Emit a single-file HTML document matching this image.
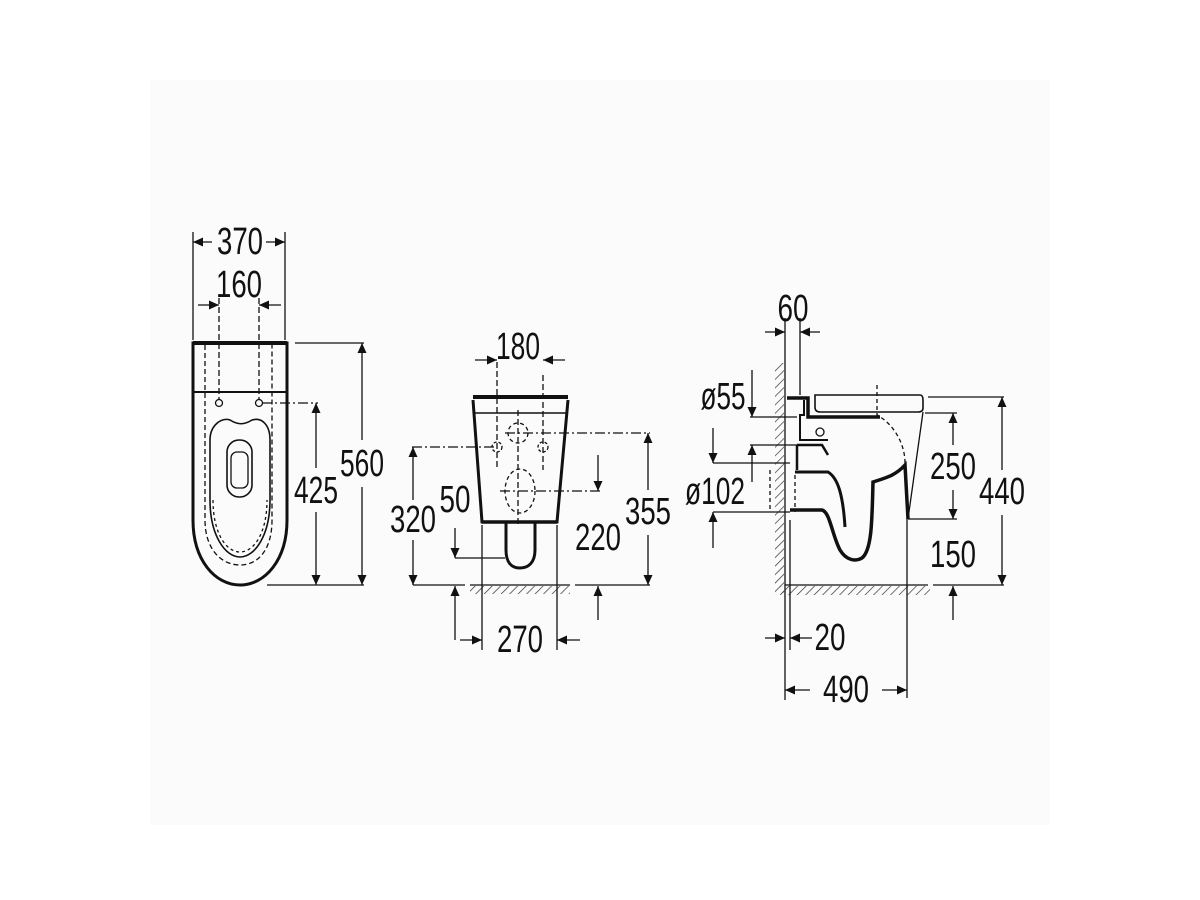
<!DOCTYPE html>
<html><head><meta charset="utf-8"><style>
html,body{margin:0;padding:0;background:#fff;}
svg{display:block;}
text{font-family:"Liberation Sans",sans-serif;font-size:38px;fill:#111;text-anchor:middle;dominant-baseline:central;}
</style></head><body>
<svg width="1200" height="900" viewBox="0 0 1200 900" xmlns="http://www.w3.org/2000/svg">
<defs>
<marker id="a" viewBox="0 0 10 10" refX="10" refY="5" markerWidth="18" markerHeight="10" markerUnits="userSpaceOnUse" orient="auto"><path d="M0,0.5 L10,5 L0,9.5 Z" fill="#111"/></marker>
<pattern id="h" width="6" height="6" patternUnits="userSpaceOnUse" patternTransform="rotate(45)"><line x1="0" y1="0" x2="0" y2="6" stroke="#333" stroke-width="1.4"/></pattern>
</defs>
<rect x="150" y="80" width="900" height="745" fill="#fbfbfb"/>
<g stroke="#111" fill="none" stroke-width="1.3">
<line x1="193" y1="232" x2="193" y2="340"/><line x1="285" y1="232" x2="285" y2="340"/>
<line x1="212" y1="242" x2="193" y2="242" marker-end="url(#a)"/><line x1="266" y1="242" x2="285" y2="242" marker-end="url(#a)"/>
<line x1="198" y1="305" x2="219" y2="305" marker-end="url(#a)"/><line x1="281" y1="305" x2="259" y2="305" marker-end="url(#a)"/>
<line x1="219" y1="298" x2="219" y2="400" stroke-dasharray="6,3"/><line x1="259" y1="298" x2="259" y2="400" stroke-dasharray="6,3"/>
<path d="M193,343 L287,343 L287,520 C287,560 265,585 240,585 C215,585 193,560 193,520 Z" stroke-width="3"/>
<line x1="193" y1="343" x2="287" y2="343" stroke-width="4"/>
<line x1="193" y1="392" x2="287" y2="392" stroke-width="2"/>
<path d="M205,345 L205,520 C205,550 222,565 240,565 C258,565 272,550 272,520 L272,345" stroke-dasharray="5,3"/>
<path d="M210,440 C210,425 222,417 230,420 C238,425 244,425 252,420 C262,417 270,425 270,440 L270,500 C270,535 255,557 240,557 C225,557 210,535 210,500 Z" stroke-width="1.6"/>
<path d="M213,500 C213,533 226,552 240,552 C254,552 267,533 267,500" stroke-dasharray="3,3"/>
<rect x="227" y="440" width="25" height="57" rx="12" stroke-width="1.6"/>
<rect x="231" y="452" width="17" height="36" rx="6"/>
<circle cx="219" cy="403" r="3.5"/><circle cx="259" cy="403" r="3.5"/>
<line x1="262" y1="403" x2="318" y2="403" stroke-dasharray="10,3,2,3"/>
<line x1="295" y1="343" x2="364" y2="343"/><line x1="267" y1="585" x2="364" y2="585"/>
<line x1="362" y1="440" x2="362" y2="343" marker-end="url(#a)"/><line x1="362" y1="487" x2="362" y2="585" marker-end="url(#a)"/>
<line x1="316" y1="468" x2="316" y2="403" marker-end="url(#a)"/><line x1="316" y1="512" x2="316" y2="585" marker-end="url(#a)"/>
<line x1="475" y1="360" x2="497" y2="360" marker-end="url(#a)"/><line x1="565" y1="360" x2="543" y2="360" marker-end="url(#a)"/>
<line x1="497" y1="362" x2="497" y2="470" stroke-dasharray="6,3"/><line x1="543" y1="375" x2="543" y2="470" stroke-dasharray="6,3"/>
<path d="M473,400 L482,522 L557,522 L568,400" stroke-width="3"/>
<line x1="473" y1="397" x2="568" y2="397" stroke-width="4"/>
<line x1="474" y1="413" x2="567" y2="413" stroke-width="1.6"/>
<line x1="482" y1="522" x2="557" y2="522" stroke-width="3.5"/>
<path d="M506,523 L506,550 C506,563 512,568 520,568 C528,568 535,563 535,550 L535,523" stroke-width="3"/>
<circle cx="518" cy="433" r="10" stroke-dasharray="4,3"/>
<circle cx="497" cy="447" r="5" stroke-dasharray="3,2"/><circle cx="543" cy="447" r="5" stroke-dasharray="3,2"/>
<ellipse cx="520" cy="491" rx="15" ry="22" stroke-dasharray="4,3"/>
<line x1="518" y1="410" x2="518" y2="525" stroke-dasharray="6,3"/>
<line x1="505" y1="433" x2="650" y2="433" stroke-dasharray="10,3,2,3"/>
<line x1="412" y1="447" x2="497" y2="447" stroke-dasharray="10,3,2,3"/>
<line x1="500" y1="491" x2="600" y2="491" stroke-dasharray="10,3,2,3"/>
<line x1="413" y1="500" x2="413" y2="447" marker-end="url(#a)"/><line x1="413" y1="540" x2="413" y2="585" marker-end="url(#a)"/>
<line x1="455" y1="528" x2="455" y2="558" marker-end="url(#a)"/><line x1="455" y1="558" x2="505" y2="558"/>
<line x1="455" y1="640" x2="455" y2="586" marker-end="url(#a)"/>
<line x1="413" y1="585" x2="465" y2="585"/><line x1="470" y1="585" x2="570" y2="585"/><line x1="575" y1="585" x2="650" y2="585"/>
<rect x="470" y="586" width="100" height="8" fill="url(#h)" stroke="none"/>
<line x1="598" y1="455" x2="598" y2="491" marker-end="url(#a)"/><line x1="598" y1="620" x2="598" y2="586" marker-end="url(#a)"/>
<line x1="648" y1="490" x2="648" y2="433" marker-end="url(#a)"/><line x1="648" y1="535" x2="648" y2="585" marker-end="url(#a)"/>
<line x1="482" y1="525" x2="482" y2="650"/><line x1="557" y1="525" x2="557" y2="650"/>
<line x1="460" y1="640" x2="482" y2="640" marker-end="url(#a)"/><line x1="580" y1="640" x2="557" y2="640" marker-end="url(#a)"/>
<line x1="785" y1="318" x2="785" y2="700"/><line x1="800" y1="318" x2="800" y2="395"/>
<line x1="765" y1="332" x2="785" y2="332" marker-end="url(#a)"/><line x1="820" y1="332" x2="800" y2="332" marker-end="url(#a)"/>
<rect x="775" y="363" width="9" height="230" fill="url(#h)" stroke="none"/>
<line x1="785" y1="585" x2="928" y2="585"/>
<rect x="780" y="586" width="150" height="9" fill="url(#h)" stroke="none"/>
<path d="M787,398 L808,398 L808,417 L880,417" stroke-width="3.5"/>
<path d="M804,400 L804,415 L800,415 L800,440 L828,440" stroke-width="2"/>
<circle cx="820" cy="432" r="4"/>
<path d="M815,395 L920,395 Q923,395 923,400 L923,408 Q923,412 918,412 L820,412 Q815,412 815,407 Z" stroke-width="1.6"/>
<path d="M797,445 L797,470 M797,445 L822,445 L828,455" stroke-width="2.5"/>
<path d="M795,472 L828,472 C838,478 843,495 845,527" stroke-width="3"/>
<path d="M790,510 L822,510 C830,512 832,535 840,550 C846,560 855,562 862,558 C872,550 872,520 873,482 C885,478 895,476 905,465 L908,519" stroke-width="3.5"/>
<line x1="908" y1="519" x2="923" y2="412"/>
<path d="M877,385 L877,415 C895,425 905,445 905,463" stroke-dasharray="4,3"/>
<line x1="795" y1="475" x2="795" y2="512" stroke-dasharray="4,3"/>
<line x1="770" y1="470" x2="770" y2="512" stroke-dasharray="4,3"/>
<line x1="790" y1="520" x2="790" y2="650"/>
<line x1="750" y1="417" x2="797" y2="417"/><line x1="750" y1="445" x2="797" y2="445"/>
<line x1="752" y1="370" x2="752" y2="417" marker-end="url(#a)"/><line x1="752" y1="482" x2="752" y2="445" marker-end="url(#a)"/>
<line x1="713" y1="428" x2="713" y2="463" marker-end="url(#a)"/><line x1="713" y1="463" x2="790" y2="463"/>
<line x1="713" y1="512" x2="790" y2="512"/><line x1="713" y1="548" x2="713" y2="512" marker-end="url(#a)"/>
<line x1="928" y1="397" x2="1004" y2="397"/><line x1="925" y1="413" x2="957" y2="413"/>
<line x1="908" y1="519" x2="957" y2="519"/><line x1="933" y1="585" x2="1004" y2="585"/>
<line x1="953" y1="445" x2="953" y2="413" marker-end="url(#a)"/><line x1="953" y1="490" x2="953" y2="519" marker-end="url(#a)"/>
<line x1="953" y1="620" x2="953" y2="586" marker-end="url(#a)"/>
<line x1="1002" y1="470" x2="1002" y2="397" marker-end="url(#a)"/><line x1="1002" y1="515" x2="1002" y2="585" marker-end="url(#a)"/>
<line x1="765" y1="638" x2="785" y2="638" marker-end="url(#a)"/><line x1="812" y1="638" x2="790" y2="638" marker-end="url(#a)"/>
<line x1="907" y1="519" x2="907" y2="698"/>
<line x1="810" y1="690" x2="785" y2="690" marker-end="url(#a)"/><line x1="882" y1="690" x2="907" y2="690" marker-end="url(#a)"/>
</g>
<g>
<text x="240" y="242" textLength="46" lengthAdjust="spacingAndGlyphs">370</text>
<text x="239" y="285" textLength="46" lengthAdjust="spacingAndGlyphs">160</text>
<text x="362" y="464" textLength="44" lengthAdjust="spacingAndGlyphs">560</text>
<text x="316" y="491" textLength="44" lengthAdjust="spacingAndGlyphs">425</text>
<text x="518" y="347" textLength="44" lengthAdjust="spacingAndGlyphs">180</text>
<text x="413" y="520" textLength="46" lengthAdjust="spacingAndGlyphs">320</text>
<text x="455" y="500" textLength="31" lengthAdjust="spacingAndGlyphs">50</text>
<text x="598" y="538" textLength="46" lengthAdjust="spacingAndGlyphs">220</text>
<text x="648" y="512" textLength="46" lengthAdjust="spacingAndGlyphs">355</text>
<text x="520" y="640" textLength="46" lengthAdjust="spacingAndGlyphs">270</text>
<text x="793" y="309" textLength="31" lengthAdjust="spacingAndGlyphs">60</text>
<text x="723" y="397" textLength="45" lengthAdjust="spacingAndGlyphs">ø55</text>
<text x="715" y="492" textLength="60" lengthAdjust="spacingAndGlyphs">ø102</text>
<text x="953" y="467" textLength="46" lengthAdjust="spacingAndGlyphs">250</text>
<text x="1002" y="492" textLength="46" lengthAdjust="spacingAndGlyphs">440</text>
<text x="953" y="555" textLength="46" lengthAdjust="spacingAndGlyphs">150</text>
<text x="830" y="638" textLength="31" lengthAdjust="spacingAndGlyphs">20</text>
<text x="846" y="690" textLength="46" lengthAdjust="spacingAndGlyphs">490</text>
</g>
</svg>
</body></html>
